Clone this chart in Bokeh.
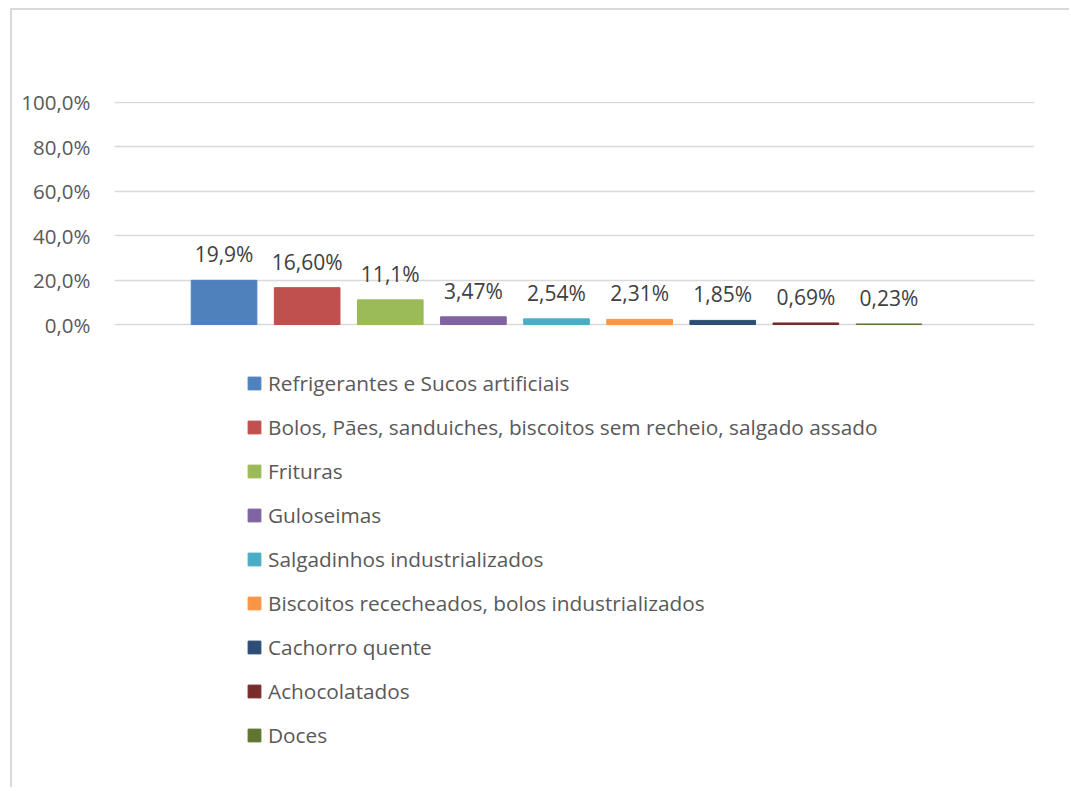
import numpy as np
from bokeh.plotting import figure
from bokeh.models import ColumnDataSource, Range1d, FixedTicker, Legend, LegendItem
from bokeh.core.properties import value
from bokeh.embed import file_html
from bokeh.resources import INLINE

categories = [
    "Refrigerantes e Sucos artificiais",
    "Bolos, Pães, sanduiches, biscoitos sem recheio, salgado assado",
    "Frituras",
    "Guloseimas",
    "Salgadinhos industrializados",
    "Biscoitos rececheados, bolos industrializados",
    "Cachorro quente",
    "Achocolatados",
    "Doces",
]
values = [19.9, 16.60, 11.1, 3.47, 2.54, 2.31, 1.85, 0.69, 0.23]
value_labels = ["19,9%", "16,60%", "11,1%", "3,47%", "2,54%", "2,31%", "1,85%", "0,69%", "0,23%"]
colors = ["#4F81BD", "#C0504D", "#9BBB59", "#8064A2", "#4BACC6",
          "#F79646", "#2C4D75", "#772C2A", "#5F7530"]
y_ticks = [0, 20, 40, 60, 80, 100]
y_tick_labels = ["0,0%", "20,0%", "40,0%", "60,0%", "80,0%", "100,0%"]

FONT = "Open Sans"

x = np.arange(len(categories))
src = ColumnDataSource(dict(x=x, top=values, label=value_labels, color=colors, name=categories))

# frame extends below the bars so that the legend (drawn inside the frame) is not clipped
p = figure(width=1059, height=779, output_backend="svg", toolbar_location=None,
           x_range=Range1d(-1.318, 9.751), y_range=Range1d(-201.35, 100.45),
           min_border_left=102, min_border_top=91, min_border_right=37, min_border_bottom=18,
           styles={"margin-left": "10px", "margin-top": "8px",
                   "border-top": "2px solid #d9d9d9", "border-left": "2px solid #d9d9d9"})
p.outline_line_color = None
p.background_fill_color = "white"
p.border_fill_color = "white"

bars = p.vbar(x="x", top="top", width=0.79, bottom=0, color="color", source=src)

p.text(x="x", y="top", text="label", source=src, text_align="center", text_baseline="middle",
       y_offset=-26, text_font=value(FONT), text_font_size="21px", text_color="#404040")

p.xaxis.visible = False
p.xgrid.visible = False
p.ygrid.grid_line_color = "#d9d9d9"
p.ygrid.grid_line_width = 1.3
p.yaxis.ticker = FixedTicker(ticks=y_ticks)
p.yaxis.major_label_overrides = {t: l for t, l in zip(y_ticks, y_tick_labels)}
p.yaxis.axis_line_color = None
p.yaxis.major_tick_line_color = None
p.yaxis.minor_tick_line_color = None
p.yaxis.major_tick_in = 0
p.yaxis.major_tick_out = 0
p.yaxis.major_label_standoff = 24
p.yaxis.major_label_text_font = FONT
p.yaxis.major_label_text_font_size = "20.5px"
p.yaxis.major_label_text_color = "#595959"

items = [LegendItem(label=c, renderers=[bars], index=i) for i, c in enumerate(categories)]
legend = Legend(items=items, location=(132, 22), orientation="vertical",
                glyph_width=16, glyph_height=16, label_standoff=6, spacing=16,
                label_height=20, padding=0, margin=0,
                label_text_font=FONT, label_text_font_size="20.8px", label_text_color="#595959",
                border_line_color=None, background_fill_alpha=0)
p.add_layout(legend, "center")

open("out.html", "w").write(file_html(p, INLINE))
